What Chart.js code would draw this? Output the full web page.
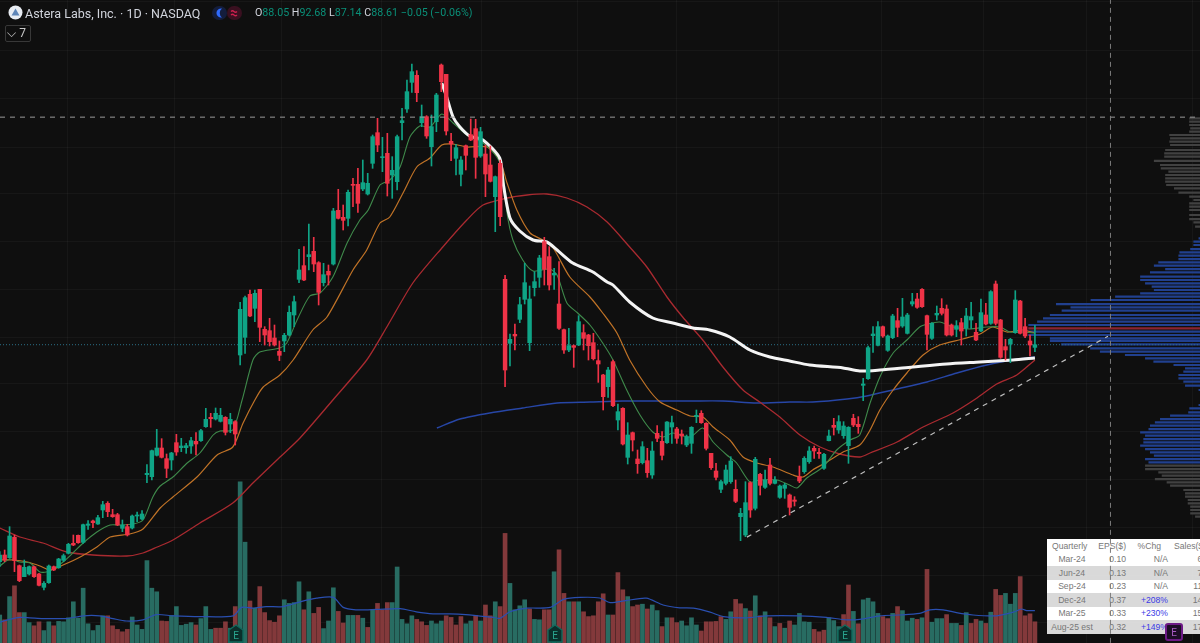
<!DOCTYPE html>
<html>
<head>
<meta charset="utf-8">
<title>Astera Labs, Inc. 1D</title>
<script src="https://cdn.jsdelivr.net/npm/chart.js@4/dist/chart.umd.min.js"></script>
<style>
    html, body { margin: 0; padding: 0; background: #0f0f0f; overflow: hidden; width: 1200px; height: 643px; }
    #chart { position: absolute; left: 0; top: 0; z-index: 1; }
    .legend { position: absolute; z-index: 2; font-family: Roboto, sans-serif; white-space: nowrap; }
    #title { left: 25px; top: 5px; font-size: 12.5px; line-height: 17px; color: #d1d4dc; }
    #ohlc { left: 255px; top: 5px; font-size: 10.7px; line-height: 16px; color: #d1d4dc; }
    #ohlc b { font-weight: 400; color: #0a8f78; }
    #count { left: 5px; top: 25px; width: 24px; height: 15px; border: 1px solid #383838; border-radius: 2px; font-size: 12px; line-height: 15px; color: #c8c8c8; text-align: right; box-sizing: content-box; }
    #count span { padding-right: 4px; }
    #quarterly { position: absolute; z-index: 0; left: 1047px; top: 539px; width: 181px; border-collapse: collapse; table-layout: fixed; background: #fff; font-family: "Liberation Sans", sans-serif; font-size: 8.6px; color: #777; }
    #quarterly td, #quarterly th { height: 13.5px; padding: 0; font-weight: 400; white-space: nowrap; }
    #quarterly tr.shade td { background: #d9d9d9; }
    #quarterly .q { text-align: center; }
    #quarterly .e { text-align: right; padding-right: 4px; }
    #quarterly .c { text-align: right; }
    #quarterly .s { text-align: right; padding-right: 21px; }
    #quarterly .up { color: #3b3be6; }
    svg.badge { position: absolute; z-index: 2; }
</style>
</head>
<body>
<canvas id="chart" width="1200" height="643"></canvas>

<svg class="badge" style="left:8px;top:5px" width="15" height="15" viewBox="0 0 15 15">
    <circle cx="7.5" cy="7.5" r="7" fill="#e8ecf2"/>
    <path d="M7.5 3.5 L11.5 10.5 H3.5 Z" fill="#5f86b8"/>
</svg>
<div class="legend" id="title">Astera Labs, Inc. · 1D · NASDAQ</div>
<svg class="badge" style="left:212px;top:6px" width="30" height="14" viewBox="0 0 30 14">
    <rect x="0" y="0" width="15" height="14" rx="7" fill="#141d3c"/>
    <rect x="15" y="0" width="15" height="14" rx="7" fill="#3a1020"/>
    <path d="M10 2.5 A4.6 4.6 0 1 0 10 11.5 A5.6 5.6 0 0 1 10 2.5 Z" fill="#2f6bff"/>
    <path d="M19 5.5 Q20.5 4 22 5.5 T25 5.5 M19 9 Q20.5 7.5 22 9 T25 9" stroke="#d0204f" stroke-width="1.2" fill="none"/>
</svg>
<div class="legend" id="ohlc">O<b>88.05</b> H<b>92.68</b> L<b>87.14</b> C<b>88.61</b> <b>−0.05 (−0.06%)</b></div>
<div class="legend" id="count"><span>⌵ 7</span></div>

<table id="quarterly">
    <colgroup><col style="width:50px"><col style="width:33px"><col style="width:38px"><col style="width:60px"></colgroup>
    <tr><td class="q" style="text-align:left;padding-left:5px">Quarterly</td><td class="e">EPS($)</td><td class="c" style="padding-right:7px">%Chg</td><td style="padding-left:6px">Sales($M)</td></tr>
    <tr><td class="q">Mar-24</td><td class="e">0.10</td><td class="c">N/A</td><td class="s">65</td></tr>
    <tr class="shade"><td class="q">Jun-24</td><td class="e">0.13</td><td class="c">N/A</td><td class="s">77</td></tr>
    <tr><td class="q">Sep-24</td><td class="e">0.23</td><td class="c">N/A</td><td class="s">113</td></tr>
    <tr class="shade"><td class="q">Dec-24</td><td class="e">0.37</td><td class="c up">+208%</td><td class="s">141</td></tr>
    <tr><td class="q">Mar-25</td><td class="e">0.33</td><td class="c up">+230%</td><td class="s">159</td></tr>
    <tr class="shade"><td class="q">Aug-25 est</td><td class="e">0.32</td><td class="c up">+149%</td><td class="s">172</td></tr>
</table>

<svg class="badge" style="left:228px;top:624px" width="16" height="19" viewBox="0 0 16 19"><path d="M1 6 L8 1 L15 6 V18 H1 Z" fill="#0a2f2b" stroke="#0f6a5d" stroke-width="1.4"/><text x="8" y="15" font-family="Roboto" font-size="10" fill="#2aa590" text-anchor="middle">E</text></svg>
<svg class="badge" style="left:547px;top:624px" width="16" height="19" viewBox="0 0 16 19"><path d="M1 6 L8 1 L15 6 V18 H1 Z" fill="#0a2f2b" stroke="#0f6a5d" stroke-width="1.4"/><text x="8" y="15" font-family="Roboto" font-size="10" fill="#2aa590" text-anchor="middle">E</text></svg>
<svg class="badge" style="left:837px;top:624px" width="16" height="19" viewBox="0 0 16 19"><path d="M1 6 L8 1 L15 6 V18 H1 Z" fill="#0a2f2b" stroke="#0f6a5d" stroke-width="1.4"/><text x="8" y="15" font-family="Roboto" font-size="10" fill="#2aa590" text-anchor="middle">E</text></svg>
<svg class="badge" style="left:1165px;top:623px" width="18" height="18" viewBox="0 0 18 18"><rect x="1" y="1" width="16" height="16" rx="2" fill="#1c0d26" stroke="#6d1a86" stroke-width="2"/><text x="9" y="13" font-family="Roboto" font-size="10" fill="#a85bc4" text-anchor="middle">E</text></svg>

<script>
// Daily candles
const open = [
    43.05,44.45,43.89,48.16,42.21,39.9,40.46,42,40.46,37.66,
    38.64,42,41.79,43.33,44.8,46.9,48.58,47.11,50.68,51.59,
    50.96,53.9,55.3,52.92,52.92,50.05,50.4,50.12,52.64,52.01,
    61.32,60.9,65.38,66.92,64.68,64.4,68.04,66.99,66.99,67.34,
    68.32,68.46,71.4,73.36,73.01,72.52,73.36,71.96,72.45,86.45,
    90.16,99.19,96.25,100.24,91.84,91.56,90.02,87.22,89.39,90.65,
    94.85,102.34,105.21,107.1,108.22,105.84,101.64,104.02,105.56,116.83,
    115.36,115.15,122.29,122.29,121.31,120.26,126.7,133.14,127.89,128.8,
    124.25,122.85,135.24,138.11,143.71,145.18,135.24,136.5,130.2,135.45,
    147.35,145.39,131.32,127.75,124.39,130.41,132.72,133.98,128.24,128.66,
    126.35,119.7,126.7,102.34,88.9,90.79,93.94,98.14,89.04,100.59,
    102.76,110.25,107.1,103.25,97.16,91.77,87.5,88.41,88.55,91.14,
    90.65,89.04,85.26,82.25,79.8,85.05,72.8,75.25,64.96,70.14,
    64.61,63.84,64.26,61.25,70,68.32,68.04,71.33,70.91,69.86,
    67.55,67.9,73.5,74.2,72.1,65.8,62.09,58.24,59.5,59.85,
    58.24,52.5,48.65,59.64,54.25,61.39,58.66,63.35,59.5,56.56,
    58.45,57.05,56,60.9,61.95,64.05,66.85,66.01,62.65,68.46,
    71.68,70.7,69.51,67.41,73.15,71.89,80.08,81.48,90.51,88.48,
    92.4,87.43,90.09,93.66,92.54,91,97.16,98.21,100.24,94.71,
    89.95,94.85,96.25,96.11,92.75,91.84,93.24,92.05,93.8,91.21,
    91.49,94.85,93.1,101.36,93.8,88.2,88.76,91.14,97.79,92.4,
    89.39,88.05
];
const close = [
    44.45,43.4,48.44,43.26,39.06,41.86,42,39.9,38.08,38.5,
    42.14,41.3,43.61,44.31,46.69,46.55,47.04,50.82,50.96,51.24,
    52.29,55.02,53.55,52.5,50.75,50.75,48.65,52.64,52.85,53.06,
    61.6,66.36,66.92,64.96,62.65,65.87,66.08,67.34,67.41,68.46,
    67.76,70.56,72.94,73.08,74.2,73.78,70.21,72.94,69.86,96.04,
    98.49,94.64,99.4,92.26,90.65,89.25,88.55,86.38,90.58,95.41,
    97.65,104.3,102.2,107.52,105.56,99.61,103.32,103.25,116.69,115.15,
    114.73,120.61,122.08,118.3,122.64,122.5,132.3,130.55,128.1,122.5,
    125.23,132.3,135.66,141.75,145.95,141.54,136.5,132.44,134.4,141.05,
    143.85,133.49,130.76,129.99,127.4,128.38,131.6,127.96,133.35,124.46,
    122.92,123.9,115.5,83.3,89.74,90.44,97.02,101.64,98.21,101.85,
    106.82,104.44,101.15,103.6,92.05,87.5,88.41,88.06,93.45,89.95,
    88.41,85.68,84.56,77.7,83.3,75.81,74.55,67.76,69.65,68.6,
    63.63,67.2,61.74,66.29,68.95,65.38,72.38,72.24,68.95,69.44,
    69.3,71.26,73.78,72.24,66.85,62.79,60.76,59.85,62.3,64.19,
    55.72,53.2,55.44,53.9,64.54,59.08,60.2,59.5,60.2,58.94,
    59.15,54.46,55.72,59.99,64.75,66.29,66.29,65.73,65.59,69.44,
    71.26,72.45,71.54,71.26,71.75,71.4,80.36,87.99,90.86,92.4,
    90.44,90.44,94.64,92.26,94.43,94.85,97.65,96.46,96.6,90.79,
    93.1,95.2,95.2,90.65,90.65,92.61,91.49,94.64,94.5,89.6,
    95.34,92.96,99.75,93.1,85.96,87.5,89.74,98,91,90.44,
    88.55,88.61
];
const high = [
    45.15,45.5,50.4,48.65,42.35,43.4,42.14,42.14,40.6,38.85,
    42.35,42.14,43.75,44.66,46.9,48.65,48.65,50.96,51.66,51.8,
    52.78,55.72,55.65,54.04,53.2,51.8,50.89,52.85,53.48,53.76,
    63.42,66.5,70.84,68.88,65.66,66.01,69.79,68.95,67.9,69.16,
    70.14,70.84,75.25,74.2,75.32,75.25,73.5,74.2,72.66,97.51,
    98.84,100.1,100.1,100.24,92.4,94.15,92.75,89.39,91,96.74,
    98.84,108.64,109.2,113.96,111.16,106.05,105.7,105.35,117.25,121.24,
    117.95,121.1,123.55,125.65,127.4,124.6,132.65,136.15,132.16,133,
    128.1,132.65,138.25,144.2,147.56,146.16,138.95,136.71,136.85,141.4,
    147.56,145.39,133,130.69,128.1,130.55,136.01,135.94,134.26,130.55,
    130.34,124.04,127.4,103.18,90.86,92.96,98.56,105.7,100.94,103.95,
    107.38,111.16,109.2,104.65,106.05,91.91,92.05,88.55,94.71,92.82,
    90.79,91,87.5,82.39,83.86,85.4,76.16,75.39,72.24,70.28,
    66.5,68.25,66.85,68.25,71.61,70.35,72.45,73.64,71.26,70.7,
    69.65,71.4,74.9,74.76,72.24,65.8,63.7,60.2,63.35,65.1,
    60.2,54.25,59.85,59.85,64.96,61.6,62.3,64.75,60.9,59.15,
    59.5,57.26,56.7,63.14,65.1,67.2,67.34,66.85,65.8,70.7,
    73.15,73.71,72.45,71.4,74,73.5,81.55,88.34,92.4,93.45,
    92.54,90.65,94.99,96.25,98.35,95.2,99.4,99.4,100.38,94.85,
    93.24,96.74,98.28,96.95,92.96,93.66,94.15,96.25,97.51,93.1,
    98.21,97.3,99.96,101.99,93.94,89.74,89.95,99.96,97.93,94.15,
    90.65,92.68
];
const low = [
    42,43.05,43.75,40.95,38.85,39.9,40.25,39.76,37.94,37.1,
    38.5,41.16,41.65,43.05,44.66,46.41,46.9,46.9,49.84,50.19,
    50.89,52.29,52.5,52.36,50.61,49.35,48.44,49.91,51.45,51.8,
    59.64,60.2,65.24,64.82,60.69,62.3,65.38,66.15,65.8,65.8,
    65.45,68.32,71.26,71.26,72.8,72.38,69.65,70.14,67.55,84.35,
    86.8,94.5,93.45,89.25,88.55,88.34,88.34,85.26,87.15,90.44,
    92.4,101.64,102.06,104.3,103.95,96.95,100.94,101.15,105.35,115.01,
    112.7,113.54,117.6,116.41,120.96,120.05,125.65,129.15,124.95,119.84,
    119.35,121.1,131.6,137.41,141.61,139.65,134.4,131.95,126.14,133.35,
    141.75,132.65,127.26,124.25,121.94,125.3,131.46,123.55,127.96,119.7,
    122.78,112.35,113.61,79.8,84.14,87.5,93.24,97.16,87.36,98.84,
    100.66,101.15,100.1,100.24,91.84,86.8,87.15,83.86,88.41,87.5,
    85.4,85.4,80.71,74.9,77.56,75.6,70.7,67.55,63.56,66.29,
    61.6,63.56,60.76,60.55,68.25,64.4,67.9,67.9,67.9,67.76,
    67.2,65.8,72.24,72.1,66.5,62.44,60.2,57.54,59.15,59.5,
    55.44,47.46,48.3,52.36,53.9,57.05,58.45,59.15,59.36,56.35,
    56.35,52.85,54.74,59.64,61.6,63.7,64.75,64.75,62.44,68.39,
    69.65,70,68.95,63.7,71.4,70,76.86,81.34,87.01,88.34,
    90.16,87.22,89.88,90.3,92.26,90.86,96.74,96.25,96.46,87.5,
    89.74,93.8,94.85,90.44,90.44,90.3,88.55,90.44,92.05,89.46,
    91.35,92.75,92.89,92.75,85.75,85.4,84.84,91,90.86,90.09,
    86.24,87.14
];

// Volume in millions of shares, and the colour of each volume bar
const volume = [
    7,5.8,11.6,14.3,7.6,7.6,5.1,4.3,5.3,3.1,
    5.3,4.3,5.4,5.3,6.3,10.3,6.2,13.7,4.8,3.1,
    4.4,6.8,6.8,4.3,3.4,2.8,3.4,6.5,4.5,3.4,
    20.6,13.7,12.8,5.5,5.4,6.9,9.1,4.4,4.7,5.1,
    4.5,6.1,9.1,3.4,3.7,3.7,5.3,3.7,9.1,40.3,
    25.2,10.5,8.7,14.1,7.6,5.6,5.2,6.8,10.8,9.9,
    10.1,15.3,8.3,12.8,7.4,8.9,3.6,5.5,13.8,7.9,
    5,6.9,6.9,6.9,6.2,3.9,8.3,9.9,8.3,10.1,
    10.1,19,5.9,4.8,6.8,5.9,5.3,4.4,5.5,4.8,
    5.5,6.8,6.4,4.5,6.6,4.8,5.5,6.9,5.5,9.5,
    6.8,10.3,9.1,27.4,14.9,8.3,9.3,10.8,8.5,5.9,
    5.8,8.3,8.3,17.8,23.3,12.4,10.3,10.3,10.3,7.8,
    6.6,6.8,10.3,12.3,7,7,17.6,13.3,11.6,9.1,
    9.5,9.7,8.5,9.5,8.1,4.1,6.3,6.3,5.1,5.5,
    4.3,6.3,4.5,3,5.3,5.3,5.4,6.6,5.9,7.8,
    10.9,9.8,8.6,8,11.8,6.8,7.8,6.3,4.1,4.9,
    3.7,5.5,4.5,7.4,5.3,5.2,3.4,2.8,3.2,6.3,
    5.6,4.1,7.1,14.5,7.9,4.8,10.8,11.2,10.3,7.4,
    6.6,6.1,7.4,9.1,8.1,5.5,6.2,5.9,6.3,18.4,
    5.2,6.1,6.1,7.1,4.9,4.9,4.4,7.6,4.9,5.9,
    5.5,4.9,7.7,13.4,11.9,12.4,9.7,12.4,16.6,6.8,
    7.3,5.3
];
const volumeDir = (
    "grgrrggrrg" + "grgggggggg" + "ggrrrrrggg" + "gggrrggggg" +
    "rgggrrrgrg" + "grgrrrrrgg" + "ggrgrrgggr" + "rggrgrgrrr" +
    "gggggrrrgg" + "grrrrggrgr" + "rgrrggggrg" + "grrgrrgrgr" +
    "rrrrgrrrgr" + "rgrggrgrrg" + "gggrrrrrgg" + "rrgrgrgrgr" +
    "grggggrrrg" + "ggrrgrgggg" + "rrgrgggrgr" + "gggrggrgrr" +
    "grgrrgggrr" + "rr"
).split("");

// Volume average, sampled where it bends
const volAvgBars = [0,2,4.1,6.1,8.8,11.5,13.6,17,20.4,23.1,25.8,29.2,31.9,35.3,40.8,47.6,49.3,51.6,54.3,57.7,61.2,64.6,68,70,72.6,76.8,81.6,84.9,88.3,91.7,95,100.6,102,104,107.4,112.2,114.9,118.3,122.3,124.4,127.6,131.8,135.2,138.6,141.4,144.8,147.5,152.2,156.3,163,168.5,172.6,175.3,179.4,183.4,187.5,189.6,192.3,195,198.4,203.2,206.6,208.3,209.3,211];
const volAvg = [5.2,5.9,6.4,6.3,6.1,6.1,6.1,6.8,6.8,6.1,5.5,5.8,7.1,6.8,6.6,6.8,8.9,8.7,9.1,9.1,10.3,11.2,11.4,8.9,8.3,8.4,8.6,7.8,7.3,7.3,7.1,6.4,6.2,7.8,8.7,8.9,10.9,11.4,11.25,10.1,10.6,11.2,9.5,8.8,8.7,7.7,6.6,6.3,6.8,6.8,6.4,5.8,5.9,6.8,7,7.4,8.3,8.3,7.6,7,6.8,7.7,8.5,8.1,8.1];

// Moving averages and the anchored VWAP
const fastBars = [0,2.1,4.1,6.2,8.2,10.2,12.9,14.9,17,19.8,22.5,24.5,27.2,29.2,31.2,32.7,35.3,38.2,40.8,43.5,44.9,47.5,49.4,51.6,53,57.1,58.5,60.6,63.2,65.3,67.9,70.8,73.4,75.1,77.5,79.5,81.6,83.6,85.6,87.7,90.1,92.4,95.2,98.5,101.3,102.6,103.4,104.6,106.6,108.7,112.1,113.6,115.6,117.8,120.3,122.9,125,127.8,130.5,133.1,135.2,137.2,140.7,143.3,145.4,148.2,150.2,152.9,154.9,158.4,161,162.5,164.5,167.8,170.6,173.3,175.3,177.4,179.4,182.1,184.9,187.5,189.2,191.6,194.3,197.7,201.2,203.9,205.9,208.5,211];
const fastAvg = [42.14,43.61,42.98,42.77,40.88,41.09,42.98,44.87,46.97,49.28,50.75,50.75,50.96,51.8,56.63,58.94,60.83,63.77,65.87,69.65,70.49,70.7,77,85.4,87.08,87.92,88.97,93.8,98.84,99.47,102.83,109.97,114.8,116.9,122.15,123.2,125.93,132.23,134.54,134.33,137.06,135.17,132.65,130.97,128.03,124.67,116.27,110.6,106.4,104.09,104.51,103.25,97.37,95.27,92.75,88.97,85.4,79.1,73.85,70.28,69.23,70.07,69.23,71.12,68.18,65.45,63.77,59.78,60.2,60.2,59.15,58.52,60.62,62.93,66.5,68.6,69.65,76.37,81.83,86.87,89.6,92.33,92.96,93.38,92.33,91.91,92.33,92.33,91.28,91.28,91.07];

const midBars = [0,2.7,5.6,8.2,10.2,12.9,16.4,19.8,22.5,26.5,29.2,32.7,35.3,40.2,44.3,47.5,49.6,52,53.7,57.1,59.8,63.8,66.7,72,74.8,77.5,79.5,82.2,85,87.7,90.1,92.4,95.2,99.3,101.9,103.4,105.4,108.1,110.7,112.8,116.2,120.3,122.9,125.8,128.4,131.9,134.6,138,140.7,143.3,145.4,148.8,151.5,154.3,157.6,161.7,163.7,165.7,168.6,171.9,175.3,177.4,179.4,182.1,184.9,188.2,191.6,196.3,199.8,202.4,205.3,208.5,211];
const midAvg = [43.4,43.4,42.98,42.14,41.3,42.35,44.03,46.13,48.23,48.86,49.91,54.32,56.63,60.83,65.45,67.13,72.17,77,79.73,82.25,85.4,91.7,94.43,104.3,108.5,114.17,115.43,120.47,125.93,127.82,130.55,130.76,130.13,130.13,127.4,122.57,116.9,112.07,110.6,108.92,102.83,98.63,95.27,91.07,85.4,79.73,76.58,74.9,73.64,73.43,71.33,68.6,65.03,63.77,62.93,61.25,60.83,62.3,63.98,66.08,67.55,70.7,74.9,79.1,82.67,86.45,88.55,89.81,90.86,92.33,91.28,91.7,91.07];

const slowBars = [0,4.1,8.8,13.7,19,25.9,29.2,32.1,35.3,40.8,47.5,51.6,56.5,61.2,67.9,74.8,78.9,84.2,90.3,95.2,98.5,103.4,107.5,111.5,115.6,119.7,123.8,128.4,131.9,136,139.2,143.3,147.4,151.5,154.9,159,163.1,167.2,171.2,175.3,177.4,182.9,188.2,194.3,199.2,203.2,207.3,211];
const slowAvg = [50.12,48.23,46.97,45.08,44.45,44.24,44.87,46.13,47.6,51.17,55.37,59.57,64.4,69.02,77,85.4,92.33,101.57,109.13,114.8,117.95,119.42,120.05,120.26,119.42,117.53,114.38,109.13,104.93,98.63,94.43,89.6,83.93,79.1,76.58,73.43,69.65,67.13,65.66,65.03,65.87,68.18,71.33,74.27,77.42,80.36,82.25,85.4];

const longBars = [89.1,93.8,99.9,106.6,113.6,120.3,127,133.9,140.7,147.4,154.3,161,165.7,172.7,176.7,182.9,189,195.1,201.2,206.5,211];
const longAvg = [71.12,73,74.27,75.32,76.37,76.58,76.79,76.79,76.79,76.79,76.37,76.58,76.58,77.21,77.84,79.31,80.78,82.67,84.35,85.4,86.03];

const vwapBars = [90.1,91.1,92.4,93.8,95.8,98.5,101.9,102.6,104,106,108.7,111.5,113.6,116.8,120.9,123.8,125,128.4,133.1,137.2,141.3,144.7,148.8,152.9,157,161,165.1,171.9,175.3,179.4,186.1,193,199.8,206.5,211];
const vwap = [143.57,140.63,136.43,134.33,132.44,131.6,127.82,122.57,115.22,112.49,110.6,110.18,108.5,105.77,103.88,101.78,101.15,97.58,94.22,93.17,92.12,91.7,90.23,87.5,86.03,85.19,84.35,83.72,83.09,83.3,83.93,84.56,84.98,85.4,85.82];

// Volume profile on the right edge: price level and size of each row
const blueLevels = [110.95,110.25,109.55,108.7,108,107.3,106.6,105.9,105.2,104.5,103.8,102.9,102.2,101.5,100.8,100.1,99.4,98.7,98,97.15,96.45,95.75,94.85,94.15,93.45,92.75,91.35,90.65,89.95,89.4,88.7,87.85,87.15,86.45,85.75,85.05,84.35,83.65,82.95,82.25,81.55,80.85,80,79.1,75.95,75.25,74.4,73.7,73,72.3,71.6,70.9,70.2,69.5,68.8,68.1,67.4,66.7,66,65.3,64.6,63.9];
const blueProfile = [0.3,1.35,1.35,2,4.2,4.4,4.4,8.5,9.4,7.1,10.2,12.2,12.2,11.2,9.85,9.4,12.2,17.3,22.3,29.35,26.4,28.2,30.6,32,33.2,35,35,35,30.6,30.6,28.3,22.4,20.4,15.3,11.2,9.5,5.4,3.05,3.4,4.4,4.4,3.4,3.05,0.3,0.3,2.17,2.4,6.1,8.15,9.2,10.2,10.5,12.2,11.2,11.55,11.55,12.2,11.2,10.2,9.4,11.2,10.5];
const grayLevels = [136.15,135.45,134.75,134.05,133.35,132.65,131.95,131.25,130.55,129.5,128.8,128.1,127.2,126.35,125.65,124.95,124.25,123.55,122.85,122.15,121.45,120.55,119.7,119,118.3,117.6,116.9,115.85,115,114.3,113.4,63.2,62.5,61.8,61.1,60.4,59.7,59,58.1,57.4,56.7,56,55.3,54.6,53.9,53.2,52.5];
const grayProfile = [2.2,2.2,2.2,2,2.2,6.25,6.1,6.25,6.1,7.1,7.3,7.3,9.4,8.15,8,6.45,7.1,7.1,7.1,6.9,5.3,4.4,2.2,1.35,2.2,2.2,2.2,2.2,2.2,1.35,1,11.2,11.2,8.5,7.8,9.2,6.8,6.1,3.4,3.05,3.05,2.5,2.5,2,2,2,1];
const pocLevel = 92.05;
const pocProfile = 35;

// Drawn lines on the chart
const trendBars = [152.3,225.9];
const trendPrices = [48.2,90.4];
const levelPrice = 136.4;
const lastClose = 88.61;
const crosshairBar = 226.4;

// Grid positions
const gridBars = [3.7,23.9,47.3,67.5,88.1,108.1,127.4,148.4,169.2,190.2,210.8,232.4];
const gridPrices = [160.6,150.5,140.4,130.1,120.3,110.2,100.3,90.2,80.4,70.3,60.2,50.3,40.2,30.2];

const UP = "#0fa486";
const DOWN = "#ef3347";
const VOL_UP = "#286c62";
const VOL_DOWN = "#83393b";
const GRID = "rgba(255,255,255,0.035)";
const BAR_MIN = 0.05;
const BAR_MAX = 244.65;

const bars = open.map((_, i) => i);
const candleColors = bars.map(i => close[i] >= open[i] ? UP : DOWN);

function curve(xs, ys, color, width, order, axis) {
    return {
        type: "line",
        data: xs.map((x, i) => ({ x: x, y: ys[i] })),
        borderColor: color,
        borderWidth: width,
        pointRadius: 0,
        tension: 0.25,
        yAxisID: axis || "y",
        order: order
    };
}

// straight line with a dash pattern, for the trend line and the cross lines
function dashed(points, color, dash, order, width) {
    return {
        type: "line",
        data: points,
        borderColor: color,
        borderWidth: width || 1,
        borderDash: dash,
        pointRadius: 0,
        tension: 0,
        order: order
    };
}

// every profile row is a horizontal run that ends at the right edge, null splits the rows
function profileRows(levels, sizes, color, order) {
    const points = [];
    levels.forEach((level, i) => {
        points.push({ x: BAR_MAX - sizes[i], y: level });
        points.push({ x: BAR_MAX, y: level });
        points.push({ x: BAR_MAX, y: null });
    });
    return {
        type: "line",
        data: points,
        borderColor: color,
        borderWidth: 2.2,
        pointRadius: 0,
        tension: 0,
        spanGaps: false,
        order: order
    };
}

new Chart(document.getElementById("chart").getContext("2d"), {
    type: "bar",
    data: {
        datasets: [
            dashed([{ x: crosshairBar, y: 26 }, { x: crosshairBar, y: 161 }], "#7d7d7d", [5, 4], 0, 1),
            dashed([{ x: BAR_MIN, y: levelPrice }, { x: BAR_MAX, y: levelPrice }], "#9a9a9a", [5, 5], 0, 1),
            dashed([{ x: trendBars[0], y: trendPrices[0] }, { x: trendBars[1], y: trendPrices[1] }], "#bdbdbd", [5, 5], 0, 1.2),
            {
                data: bars.map(i => ({ x: i, y: [Math.min(open[i], close[i]), Math.max(open[i], close[i])] })),
                backgroundColor: candleColors,
                barThickness: 3.8,
                minBarLength: 1,
                grouped: false,
                order: 1
            },
            {
                data: bars.map(i => ({ x: i, y: [low[i], high[i]] })),
                backgroundColor: candleColors,
                barThickness: 1,
                grouped: false,
                order: 2
            },
            curve(vwapBars, vwap, "#f4f4f4", 3, 3),
            curve(fastBars, fastAvg, "#3f8a4b", 1.1, 4),
            curve(midBars, midAvg, "#c07327", 1.2, 5),
            curve(slowBars, slowAvg, "#a92a30", 1.3, 6),
            curve(longBars, longAvg, "#2746a6", 1.4, 7),
            dashed([{ x: BAR_MIN, y: lastClose }, { x: BAR_MAX, y: lastClose }], "#2a6f86", [1, 2], 8, 1),
            profileRows(blueLevels, blueProfile, "#21408f", 9),
            profileRows(grayLevels, grayProfile, "#414141", 9),
            profileRows([pocLevel], [pocProfile], "#8a2430", 9),
            curve(volAvgBars, volAvg, "#2a4fb0", 1.2, 10, "yVol"),
            {
                data: bars.map(i => ({ x: i, y: volume[i] })),
                backgroundColor: volumeDir.map(d => d === "g" ? VOL_UP : VOL_DOWN),
                barThickness: 4,
                grouped: false,
                yAxisID: "yVol",
                order: 11
            }
        ]
    },
    options: {
        responsive: false,
        animation: false,
        events: [],
        layout: { padding: 0 },
        plugins: { legend: { display: false }, tooltip: { enabled: false } },
        scales: {
            x: {
                type: "linear",
                min: BAR_MIN,
                max: BAR_MAX,
                offset: false,
                border: { display: false },
                grid: { color: GRID, drawTicks: false, tickLength: 0 },
                ticks: { display: false, autoSkip: false },
                afterBuildTicks: axis => { axis.ticks = gridBars.map(v => ({ value: v })); }
            },
            y: {
                min: 25.97,
                max: 161,
                border: { display: false },
                grid: { color: GRID, drawTicks: false, tickLength: 0 },
                ticks: { display: false, autoSkip: false },
                afterBuildTicks: axis => { axis.ticks = gridPrices.map(v => ({ value: v })); }
            },
            yVol: { display: false, min: 0, max: 160.75 }
        }
    }
});
</script>
</body>
</html>
